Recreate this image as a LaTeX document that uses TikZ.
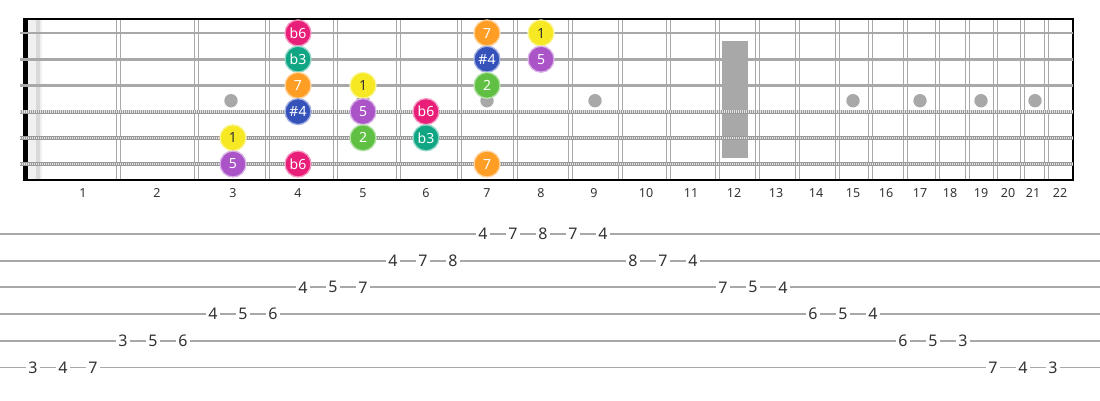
\documentclass[tikz,border=0pt]{standalone}
\usepackage{fontspec}
\setmainfont{Noto Sans}
\usepackage{xcolor}

\definecolor{rootcol}{RGB}{246,232,34}
\definecolor{twocol}{RGB}{96,192,68}
\definecolor{bthreecol}{RGB}{16,166,132}
\definecolor{sfourcol}{RGB}{52,82,186}
\definecolor{fivecol}{RGB}{170,84,200}
\definecolor{bsixcol}{RGB}{232,30,120}
\definecolor{sevencol}{RGB}{255,158,36}
\definecolor{wire}{RGB}{168,168,168}
\definecolor{digit}{RGB}{51,51,51}

\tikzset{
  deg/.style={circle, minimum size=26pt, inner sep=0pt, line width=1.3pt, fill=#1, draw=#1!45!white, text=white, font=\fontsize{14}{14}\selectfont},
  fretno/.style={text=digit, font=\fontsize{12.5}{12.5}\selectfont},
  tabno/.style={fill=white, inner sep=2.5pt, text=digit, font=\fontsize{16}{16}\selectfont},
}

\begin{document}
\begin{tikzpicture}[x=1pt, y=-1pt]
\useasboundingbox (0,0) rectangle (1100,400);
% nut
\fill[gray!12] (28,19) rectangle (42,180);
\fill[gray!30] (36,19) rectangle (40,180);
\fill[black] (23,19) rectangle (28,180);
% frets
\foreach \f in {118,196,267,335,398,459,515,570,620,668,717,757,797,837,870,905,937,967,995,1022,1046} {
  \draw[wire, line width=1pt] (\f-2,19) -- (\f-2,180);
  \draw[wire, line width=1pt] (\f+2,19) -- (\f+2,180);
}
% inlays
\foreach \x in {231,363,487,595,853,920,981,1035} \fill[wire] (\x,100.7) circle (6.7pt);
\fill[wire] (722,41) rectangle (748,158);
\draw[black, line width=2pt] (23,19) -- (1073,19) -- (1073,180) -- (23,180);
% strings
\foreach \y in {33,59.2,85.4} \draw[wire, line width=2.6pt] (20,\y) -- (1073,\y);
\foreach \y in {111.6,137.8,164} {
  \draw[gray!80, line width=3.8pt] (20,\y) -- (1073,\y);
  \draw[gray!20, line width=2.4pt, dash pattern=on 0.9pt off 1.1pt] (20,\y) -- (1073,\y);
}
\foreach \n/\x in {1/83,2/157,3/233,4/298,5/363,6/426,7/487,8/541,9/594,10/646,11/691,12/734,13/776,14/816,15/853,16/886,17/920,18/950,19/981,20/1008,21/1033,22/1060}
  \node[fretno] (fn\n) at (\x,193) {\n};

\node[deg=bsixcol] (e1f4) at (298,33) {b6};
\node[deg=sevencol] (e1f7) at (487,33) {7};
\node[deg=rootcol, text=black!80] (e1f8) at (541,33) {1};
\node[deg=bthreecol] (b2f4) at (298,59.2) {b3};
\node[deg=sfourcol] (b2f7) at (487,59.2) {\#4};
\node[deg=fivecol] (b2f8) at (541,59.2) {5};
\node[deg=sevencol] (g3f4) at (298,85.4) {7};
\node[deg=rootcol, text=black!80] (g3f5) at (363,85.4) {1};
\node[deg=twocol] (g3f7) at (487,85.4) {2};
\node[deg=sfourcol] (d4f4) at (298,111.6) {\#4};
\node[deg=fivecol] (d4f5) at (363,111.6) {5};
\node[deg=bsixcol] (d4f6) at (426,111.6) {b6};
\node[deg=rootcol, text=black!80] (a5f3) at (233,137.8) {1};
\node[deg=twocol] (a5f5) at (363,137.8) {2};
\node[deg=bthreecol] (a5f6) at (426,137.8) {b3};
\node[deg=fivecol] (e6f3) at (233,164) {5};
\node[deg=bsixcol] (e6f4) at (298,164) {b6};
\node[deg=sevencol] (e6f7) at (487,164) {7};

% tab
\foreach \k in {1,...,6} \draw[wire, line width=1.7pt] (0,{234+26.67*(\k-1)}) -- (1100,{234+26.67*(\k-1)});
\foreach \l/\v [count=\i from 0] in {6/3,6/4,6/7,5/3,5/5,5/6,4/4,4/5,4/6,3/4,3/5,3/7,2/4,2/7,2/8,1/4,1/7,1/8,1/7,1/4,2/8,2/7,2/4,3/7,3/5,3/4,4/6,4/5,4/4,5/6,5/5,5/3,6/7,6/4,6/3}
  \node[tabno] (tab\i) at ({33+30*\i},{234+26.67*(\l-1)}) {\v};
\end{tikzpicture}
\end{document}
